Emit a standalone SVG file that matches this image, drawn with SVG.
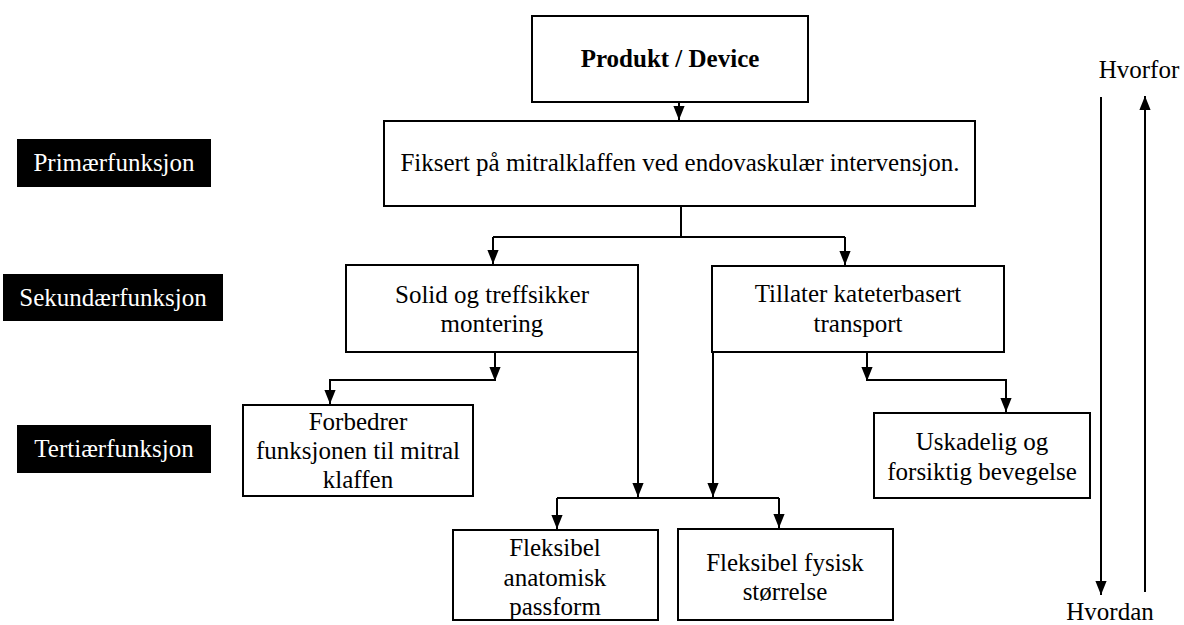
<svg xmlns="http://www.w3.org/2000/svg" width="1184" height="625" viewBox="0 0 1184 625">
<style>
.box{fill:#fff;stroke:#000;stroke-width:2}
.t{font-family:"Liberation Serif","Times New Roman",serif;font-size:25px;fill:#000;text-anchor:middle}
.b{font-weight:bold}
.lab{fill:#000}
.lt{font-family:"Liberation Serif","Times New Roman",serif;font-size:25px;fill:#fff;text-anchor:middle}
.c{fill:none;stroke:#000;stroke-width:2}
</style>
<defs>
<marker id="ah2" viewBox="0 0 10 10" refX="10" refY="5" markerWidth="7" markerHeight="7" orient="auto">
<path d="M0,1 L10,5 L0,9 z" fill="#000"/>
</marker>
</defs>
<rect width="1184" height="625" fill="#fff"/>
<g id="connectors">
<path class="c" d="M679,102 V120" marker-end="url(#ah2)"/>
<path class="c" d="M681,206 V236"/>
<path class="c" d="M493,237 H845"/>
<path class="c" d="M493,237 V264" marker-end="url(#ah2)"/>
<path class="c" d="M845,237 V265" marker-end="url(#ah2)"/>
<path class="c" d="M495,352 V381" marker-end="url(#ah2)"/>
<path class="c" d="M495,380 H330 V404" marker-end="url(#ah2)"/>
<path class="c" d="M638,352 V497" marker-end="url(#ah2)"/>
<path class="c" d="M713,352 V497" marker-end="url(#ah2)"/>
<path class="c" d="M557,498 H779"/>
<path class="c" d="M557,498 V529" marker-end="url(#ah2)"/>
<path class="c" d="M779,498 V528" marker-end="url(#ah2)"/>
<path class="c" d="M867,352 V381" marker-end="url(#ah2)"/>
<path class="c" d="M867,380 H1006 V412" marker-end="url(#ah2)"/>
<path class="c" d="M1101,97 V595" marker-end="url(#ah2)"/>
<path class="c" d="M1145,592 V96" marker-end="url(#ah2)" stroke-width="1.5"/>
</g>
<g id="n-produkt">
<rect class="box" x="532" y="16" width="276" height="86"/>
<text class="t b" x="670" y="67">Produkt / Device</text>
</g>
<g id="n-primaer">
<rect class="box" x="384" y="121" width="591" height="85"/>
<text class="t" x="680" y="171">Fiksert på mitralklaffen ved endovaskulær intervensjon.</text>
</g>
<g id="n-solid">
<rect class="box" x="346" y="265" width="292" height="87"/>
<text class="t" x="492" y="303">Solid og treffsikker</text>
<text class="t" x="492" y="332">montering</text>
</g>
<g id="n-tillater">
<rect class="box" x="712" y="266" width="292" height="86"/>
<text class="t" x="858" y="302">Tillater kateterbasert</text>
<text class="t" x="858" y="332">transport</text>
</g>
<g id="n-forbedrer">
<rect class="box" x="243" y="405" width="230" height="91"/>
<text class="t" x="358" y="430">Forbedrer</text>
<text class="t" x="358" y="459">funksjonen til mitral</text>
<text class="t" x="358" y="488">klaffen</text>
</g>
<g id="n-uskadelig">
<rect class="box" x="874" y="413" width="216" height="85"/>
<text class="t" x="982" y="450">Uskadelig og</text>
<text class="t" x="982" y="480">forsiktig bevegelse</text>
</g>
<g id="n-anatomisk">
<rect class="box" x="453" y="530" width="205" height="90"/>
<text class="t" x="555" y="556">Fleksibel</text>
<text class="t" x="555" y="586">anatomisk</text>
<text class="t" x="555" y="615">passform</text>
</g>
<g id="n-fysisk">
<rect class="box" x="678" y="529" width="215" height="91"/>
<text class="t" x="785" y="571">Fleksibel fysisk</text>
<text class="t" x="785" y="600">størrelse</text>
</g>
<g id="l-primaer">
<rect class="lab" x="17" y="139" width="194" height="48"/>
<text class="lt" x="114" y="171">Primærfunksjon</text>
</g>
<g id="l-sekundaer">
<rect class="lab" x="3" y="274" width="220" height="47"/>
<text class="lt" x="113" y="306">Sekundærfunksjon</text>
</g>
<g id="l-tertiaer">
<rect class="lab" x="17" y="425" width="194" height="48"/>
<text class="lt" x="114" y="457">Tertiærfunksjon</text>
</g>
<g id="l-hvorfor">
<text class="t" x="1139" y="78">Hvorfor</text>
</g>
<g id="l-hvordan">
<text class="t" x="1110" y="620">Hvordan</text>
</g>
</svg>
